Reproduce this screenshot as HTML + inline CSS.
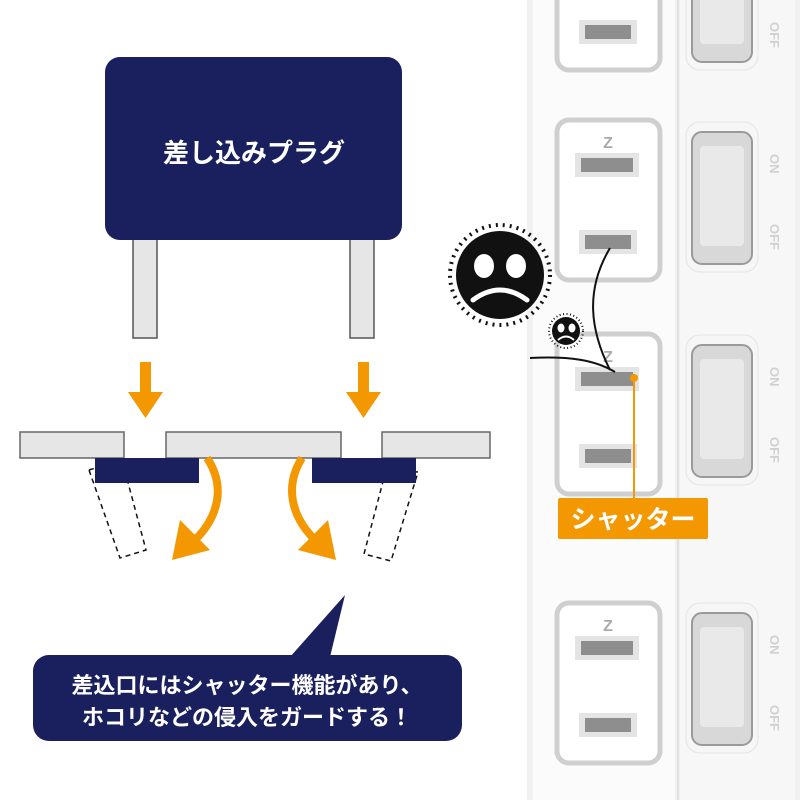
<!DOCTYPE html>
<html><head><meta charset="utf-8"><style>
html,body{margin:0;padding:0;background:#fff;}
svg{display:block;}
text{font-family:"Liberation Sans","Noto Sans CJK JP",sans-serif;font-weight:bold;}
</style></head><body>
<svg width="800" height="800" viewBox="0 0 800 800" xmlns="http://www.w3.org/2000/svg">
<defs>
<g id="outlet">
  <rect x="0" y="0" width="103" height="160" rx="12" fill="#fff" stroke="#cfcfcf" stroke-width="5"/>
  <text x="51" y="28" font-size="16" fill="#aaa" text-anchor="middle" font-weight="normal">Z</text>
  <rect x="18" y="33" width="64" height="24" fill="#e4e4e4"/>
  <rect x="24" y="38" width="52" height="14" fill="#8e8e8e"/>
  <rect x="22" y="110" width="58" height="24" fill="#e4e4e4"/>
  <rect x="28" y="115" width="46" height="14" fill="#8e8e8e"/>
</g>
<g id="switch">
  <rect x="-6" y="-10" width="72" height="150" rx="14" fill="#f6f6f6" stroke="#e4e4e4"/>
  <rect x="0" y="0" width="60" height="132" rx="10" fill="#d8d8d8" stroke="#9a9a9a" stroke-width="2"/>
  <rect x="8" y="14" width="44" height="100" rx="4" fill="#e9e9e9"/>
  <text x="78" y="22" font-size="13" fill="#d0d0d0" font-weight="normal" transform="rotate(90 78 22)">ON</text>
  <text x="78" y="92" font-size="13" fill="#d0d0d0" font-weight="normal" transform="rotate(90 78 92)">OFF</text>
</g>
</defs>

<!-- right photo -->
<rect x="527" y="0" width="273" height="800" fill="#f1f1f1"/>
<rect x="533" y="0" width="142" height="800" fill="#fbfbfb"/>
<rect x="680" y="0" width="115" height="800" fill="#f7f7f7"/>
<line x1="678" y1="0" x2="678" y2="800" stroke="#e2e2e2" stroke-width="2"/>
<use href="#outlet" x="557" y="-90"/>
<use href="#outlet" x="557" y="120"/>
<use href="#outlet" x="557" y="334"/>
<use href="#outlet" x="557" y="603"/>
<use href="#switch" x="692" y="-70"/>
<use href="#switch" x="692" y="132"/>
<use href="#switch" x="692" y="345"/>
<use href="#switch" x="692" y="613"/>

<!-- curves -->
<path d="M610 248 C585 290,590 330,610 370" fill="none" stroke="#111" stroke-width="2"/>
<path d="M530 358 C570 356,595 360,615 372" fill="none" stroke="#111" stroke-width="2"/>
<!-- shutter label -->
<line x1="634" y1="378" x2="634" y2="500" stroke="#f39800" stroke-width="2"/>
<circle cx="634" cy="378" r="4" fill="#f39800"/>
<rect x="558" y="498" width="150" height="41" rx="2" fill="#f39800"/>
<text x="633" y="528" font-size="25" fill="#fff" text-anchor="middle">シャッター</text>

<!-- dust faces -->
<circle cx="500" cy="275" r="50" fill="none" stroke="#111" stroke-width="4" stroke-dasharray="2 5"/>
<circle cx="500" cy="275" r="44" fill="#111"/>
<ellipse cx="484" cy="266" rx="10" ry="12" fill="#fff"/>
<ellipse cx="516" cy="266" rx="10" ry="12" fill="#fff"/>
<path d="M473 300 Q500 280 527 300" fill="none" stroke="#fff" stroke-width="5" stroke-linecap="round"/>
<circle cx="566" cy="331" r="17" fill="none" stroke="#111" stroke-width="2" stroke-dasharray="1 2.5"/>
<circle cx="566" cy="331" r="14" fill="#111"/>
<ellipse cx="561" cy="328" rx="3.5" ry="4.5" fill="#fff"/>
<ellipse cx="572" cy="328" rx="3.5" ry="4.5" fill="#fff"/>
<path d="M558 340 Q566 333 574 340" fill="none" stroke="#fff" stroke-width="2"/>

<!-- plug -->
<rect x="133" y="238" width="24" height="100" fill="#e6e6e6" stroke="#555" stroke-width="1.5"/>
<rect x="350" y="238" width="24" height="100" fill="#e6e6e6" stroke="#555" stroke-width="1.5"/>
<rect x="105" y="57" width="297" height="183" rx="15" fill="#1a1f5e"/>
<text x="254" y="162" font-size="26" fill="#fff" text-anchor="middle">差し込みプラグ</text>

<!-- down arrows -->
<path d="M140 362h11v30h12l-17.5 26-17.5-26h12z" fill="#f39800"/>
<path d="M358 362h11v30h12l-17.5 26-17.5-26h12z" fill="#f39800"/>

<!-- plates -->
<rect x="20" y="432" width="104" height="26" fill="#e6e6e6" stroke="#666" stroke-width="1.5"/>
<rect x="166" y="432" width="175" height="26" fill="#e6e6e6" stroke="#666" stroke-width="1.5"/>
<rect x="382" y="432" width="108" height="26" fill="#e6e6e6" stroke="#666" stroke-width="1.5"/>
<!-- dashed -->
<polygon points="89,470 122,460 146,550 120,558" fill="none" stroke="#111" stroke-width="1.5" stroke-dasharray="5 4"/>
<polygon points="386,470 418,472 391,561 364,554" fill="none" stroke="#111" stroke-width="1.5" stroke-dasharray="5 4"/>
<rect x="95" y="458" width="104" height="25" fill="#1a1f5e"/>
<rect x="312" y="458" width="104" height="25" fill="#1a1f5e"/>
<!-- curved arrows -->
<path d="M207 458 C225 485,220 515,195 540" fill="none" stroke="#f39800" stroke-width="8"/>
<polygon points="172,560 210,550 180,520" fill="#f39800"/>
<path d="M302 458 C285 485,290 515,315 540" fill="none" stroke="#f39800" stroke-width="8"/>
<polygon points="336,560 298,550 328,520" fill="#f39800"/>

<!-- bubble -->
<path d="M290 657 L345 595 L330 657 Z" fill="#1a1f5e"/>
<rect x="33" y="655" width="429" height="86" rx="16" fill="#1a1f5e"/>
<text x="247" y="693" font-size="22" fill="#fff" text-anchor="middle">差込口にはシャッター機能があり、</text>
<text x="247" y="725" font-size="22" fill="#fff" text-anchor="middle">ホコリなどの侵入をガードする！</text>
</svg>
</body></html>
